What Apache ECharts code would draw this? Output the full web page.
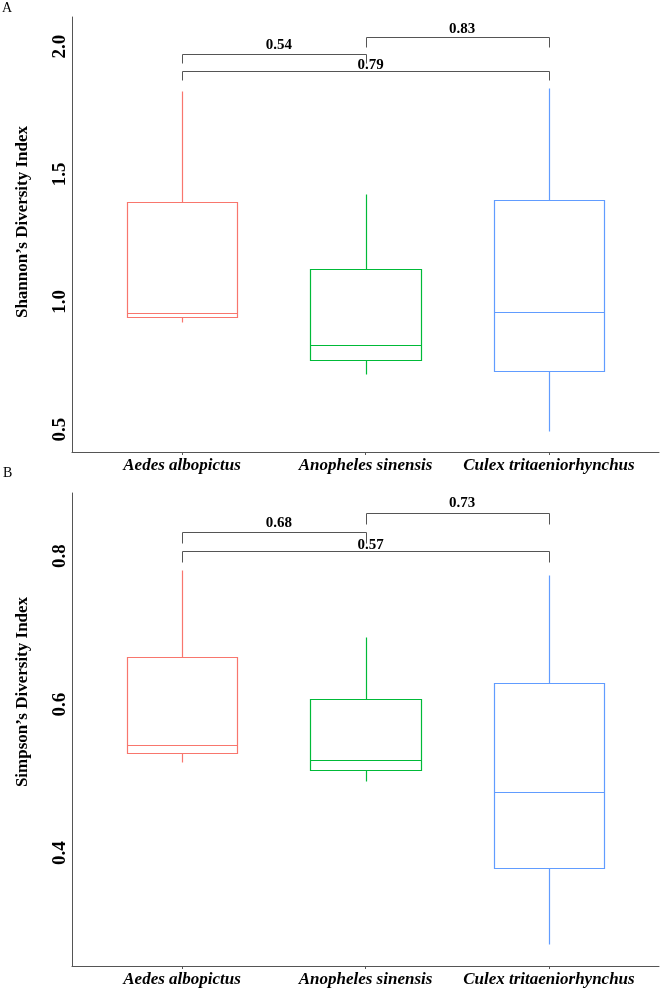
<!DOCTYPE html>
<html>
<head>
<meta charset="utf-8">
<script src="https://cdn.jsdelivr.net/npm/echarts@6/dist/echarts.min.js"></script>
<style>
  html, body { margin: 0; padding: 0; background: #fff; }
  #chart { width: 660px; height: 989px; }
</style>
</head>
<body>
<div id="chart"></div>
<script>
// categories on the x axis
const categories = ['Aedes albopictus', 'Anopheles sinensis', 'Culex tritaeniorhynchus'];

// box stats per category: [low whisker, Q1, median, Q3, high whisker]
const shannonStats = [
  [0.923, 0.940, 0.956, 1.392, 1.828],
  [0.717, 0.773, 0.830, 1.128, 1.422],
  [0.496, 0.729, 0.960, 1.398, 1.837]
];
const simpsonStats = [
  [0.523, 0.535, 0.546, 0.664, 0.781],
  [0.497, 0.512, 0.526, 0.608, 0.691],
  [0.278, 0.380, 0.482, 0.629, 0.775]
];

// y tick labels
const shannonTicks = [0.5, 1.0, 1.5, 2.0];
const simpsonTicks = [0.4, 0.6, 0.8];

// significance brackets: category pair, p value, line y, tick end y, label y
const shannonPairs = [[1, 2], [2, 3], [1, 3]];
const shannonP = ['0.54', '0.83', '0.79'];
const shannonLineY = [1.971, 2.039, 1.906];
const shannonTickY = [1.936, 2.000, 1.870];
const shannonLabelY = [2.007, 2.069, 1.928];

const simpsonPairs = [[1, 2], [2, 3], [1, 3]];
const simpsonP = ['0.68', '0.73', '0.57'];
const simpsonLineY = [0.832, 0.858, 0.807];
const simpsonTickY = [0.818, 0.843, 0.792];
const simpsonLabelY = [0.844, 0.871, 0.815];

const boxColors = ['#F8766D', '#00BA38', '#619CFF'];
const serif = '"Liberation Serif", "Times New Roman", serif';

function boxData(stats) {
  return stats.map((s, i) => [i + 1].concat(s));
}
function bracketData(pairs, p, lineY, tickY, labelY) {
  return pairs.map((pr, i) => [pr[0], pr[1], lineY[i], tickY[i], labelY[i], p[i]]);
}

function px(v) { return Math.round(v) + 0.5; }

function renderBox(params, api) {
  const x = api.value(0);
  const color = boxColors[params.dataIndex];
  const lo = api.coord([x, api.value(1)]);
  const q1 = api.coord([x, api.value(2)]);
  const md = api.coord([x, api.value(3)]);
  const q3 = api.coord([x, api.value(4)]);
  const hi = api.coord([x, api.value(5)]);
  const l = px(api.coord([x - 0.3, 0])[0]);
  const r = px(api.coord([x + 0.3, 0])[0]);
  const cx = px(lo[0]);
  const st = () => ({ stroke: color, lineWidth: 1.2, fill: null });
  return {
    type: 'group',
    children: [
      { type: 'line', shape: { x1: cx, y1: px(hi[1]), x2: cx, y2: px(q3[1]) }, style: st() },
      { type: 'line', shape: { x1: cx, y1: px(q1[1]), x2: cx, y2: px(lo[1]) }, style: st() },
      { type: 'rect', shape: { x: l, y: px(q3[1]), width: r - l, height: px(q1[1]) - px(q3[1]) }, style: st() },
      { type: 'line', shape: { x1: l, y1: px(md[1]), x2: r, y2: px(md[1]) }, style: st() }
    ]
  };
}

function renderBracket(params, api) {
  const a = api.coord([api.value(0), api.value(2)]);
  const b = api.coord([api.value(1), api.value(2)]);
  const ta = api.coord([api.value(0), api.value(3)]);
  const lab = api.coord([(api.value(0) + api.value(1)) / 2, api.value(4)]);
  const text = api.value(5);
  return {
    type: 'group',
    children: [
      {
        type: 'polyline',
        shape: { points: [[px(a[0]), px(ta[1])], [px(a[0]), px(a[1])], [px(b[0]), px(a[1])], [px(b[0]), px(ta[1])]] },
        style: { stroke: '#555', lineWidth: 1, fill: null }
      },
      {
        type: 'text',
        x: lab[0] + 5,
        y: lab[1],
        style: {
          text: String(text), fill: '#000', font: 'bold 15px ' + serif,
          textAlign: 'center', textVerticalAlign: 'middle'
        }
      }
    ]
  };
}

function xAxisOpt(idx) {
  return {
    type: 'value', gridIndex: idx, min: 0.4, max: 3.6,
    splitLine: { show: false },
    axisLine: { show: true, lineStyle: { color: '#555', width: 1 } },
    axisTick: { show: true, customValues: [1, 2, 3], length: 3, lineStyle: { color: '#555' } },
    axisLabel: {
      customValues: [1, 2, 3],
      formatter: v => categories[Math.round(v) - 1],
      color: '#000', fontFamily: serif, fontWeight: 'bold', fontStyle: 'italic', fontSize: 17, margin: 5
    }
  };
}
function yAxisOpt(idx, min, max, ticks) {
  return {
    type: 'value', gridIndex: idx, min: min, max: max,
    splitLine: { show: false },
    axisLine: { show: true, lineStyle: { color: '#555', width: 1 } },
    axisTick: { show: false },
    axisLabel: {
      customValues: ticks,
      formatter: v => v.toFixed(1),
      rotate: 90, margin: 2,
      color: '#000', fontFamily: serif, fontWeight: 'bold', fontSize: 19
    }
  };
}

const chart = echarts.init(document.getElementById('chart'));
const option = {
  backgroundColor: '#fff',
  animation: false,
  grid: [
    { left: 72, right: 1, top: 17, bottom: 537, outerBoundsMode: 'none' },
    { left: 72, right: 1, top: 493, bottom: 23, outerBoundsMode: 'none' }
  ],
  xAxis: [xAxisOpt(0), xAxisOpt(1)],
  yAxis: [
    yAxisOpt(0, 0.412, 2.116, shannonTicks),
    yAxisOpt(1, 0.248, 0.885, simpsonTicks)
  ],
  graphic: [
    { type: 'text', x: 2, y: 8, style: { text: 'A', fill: '#000', font: '14px ' + serif, textVerticalAlign: 'middle' } },
    { type: 'text', x: 3, y: 473, style: { text: 'B', fill: '#000', font: '14px ' + serif, textVerticalAlign: 'middle' } },
    { type: 'text', x: 23, y: 222, rotation: Math.PI / 2,
      style: { text: 'Shannon\u2019s Diversity Index', fill: '#000', font: 'bold 17px ' + serif, textAlign: 'center', textVerticalAlign: 'middle' } },
    { type: 'text', x: 23, y: 692, rotation: Math.PI / 2,
      style: { text: 'Simpson\u2019s Diversity Index', fill: '#000', font: 'bold 17px ' + serif, textAlign: 'center', textVerticalAlign: 'middle' } }
  ],
  series: [
    {
      type: 'custom', xAxisIndex: 0, yAxisIndex: 0, renderItem: renderBox,
      encode: { x: 0, y: [1, 2, 3, 4, 5] }, data: boxData(shannonStats)
    },
    {
      type: 'custom', xAxisIndex: 1, yAxisIndex: 1, renderItem: renderBox,
      encode: { x: 0, y: [1, 2, 3, 4, 5] }, data: boxData(simpsonStats)
    },
    {
      type: 'custom', xAxisIndex: 0, yAxisIndex: 0, renderItem: renderBracket, clip: false,
      encode: { x: [0, 1], y: [2, 3, 4] }, data: bracketData(shannonPairs, shannonP, shannonLineY, shannonTickY, shannonLabelY)
    },
    {
      type: 'custom', xAxisIndex: 1, yAxisIndex: 1, renderItem: renderBracket, clip: false,
      encode: { x: [0, 1], y: [2, 3, 4] }, data: bracketData(simpsonPairs, simpsonP, simpsonLineY, simpsonTickY, simpsonLabelY)
    }
  ]
};
chart.setOption(option);
</script>
</body>
</html>
